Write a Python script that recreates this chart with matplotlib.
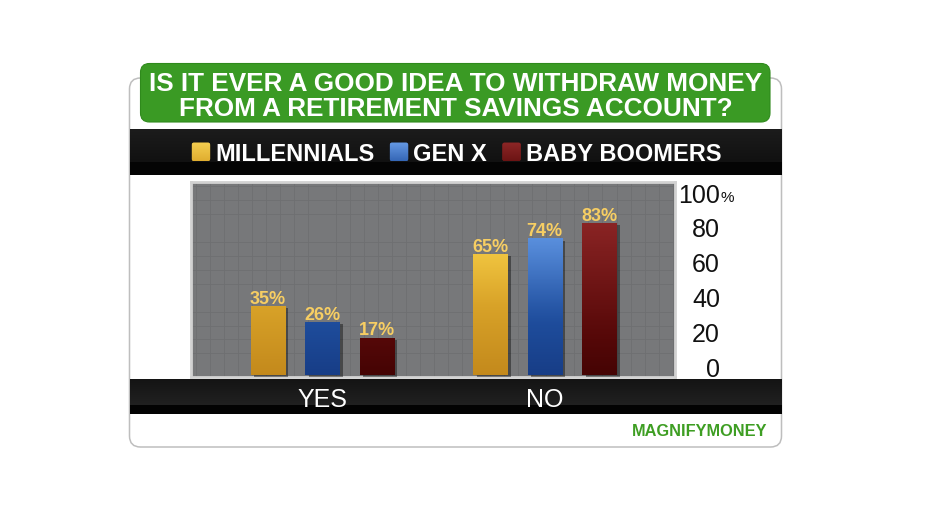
import numpy as np
import matplotlib
matplotlib.use("Agg")
import matplotlib.pyplot as plt
import matplotlib.patheffects as pe
from matplotlib.colors import LinearSegmentedColormap
from matplotlib.patches import FancyBboxPatch, Rectangle
from matplotlib.ticker import MultipleLocator

# --- data -------------------------------------------------------------
CATEGORIES = ["YES", "NO"]
SERIES = ["MILLENNIALS", "GEN X", "BABY BOOMERS"]
MILLENNIALS = [35, 65]
GEN_X = [26, 74]
BABY_BOOMERS = [17, 83]
Y_TICKS = [0, 20, 40, 60, 80, 100]
TITLE_LINES = ["IS IT EVER A GOOD IDEA TO WITHDRAW MONEY",
               "FROM A RETIREMENT SAVINGS ACCOUNT?"]
SOURCE = "MAGNIFYMONEY"

# --- style ------------------------------------------------------------
W, H = 931, 523
FONT = "Liberation Sans"
GREEN = "#3A9A24"
LABEL_GOLD = "#F7CE63"
PLOT_GRAY = "#77787A"
# vertical gradients (position over the plot height, colour)
GRADIENTS = [
    [(0.0, "#C3891C"), (0.36, "#D8A228"), (0.63, "#F0C43F"), (1.0, "#F8D65C")],
    [(0.0, "#173D86"), (0.30, "#1F4E9E"), (0.71, "#5A90DE"), (1.0, "#72A4EC")],
    [(0.0, "#440404"), (0.20, "#560808"), (0.79, "#8A2424"), (1.0, "#962E2E")],
]
CMAPS = [LinearSegmentedColormap.from_list(f"g{i}", g) for i, g in enumerate(GRADIENTS)]

YLIM = (-5.57, 106.4)
BAR_BASE = -4.4
GROUP_OFFSET = 0.245
BAR_WIDTH = 0.153

plt.rcParams["font.family"] = [FONT, "DejaVu Sans"]

fig = plt.figure(figsize=(W / 100, H / 100), dpi=100)
fig.patch.set_facecolor("white")

# full-figure layer in pixel coordinates for the card decoration
bg = fig.add_axes([0, 0, 1, 1], zorder=0)
bg.set_xlim(0, W)
bg.set_ylim(H, 0)
bg.axis("off")


def vgradient(axis, extent, colors, clip=None, origin="upper", zorder=1):
    cmap = LinearSegmentedColormap.from_list("tmp", colors)
    grad = np.linspace(0, 1, 128).reshape(-1, 1)
    im = axis.imshow(grad, extent=extent, origin=origin, aspect="auto",
                     cmap=cmap, zorder=zorder, interpolation="bilinear")
    if clip is not None:
        im.set_clip_path(clip)
    return im


# white card
card = FancyBboxPatch((129.5, 78), 652, 369, boxstyle="round,pad=0,rounding_size=11",
                      facecolor="white", edgecolor="#BEBEBE", linewidth=1.1, zorder=1)
bg.add_patch(card)

# green title banner
banner = FancyBboxPatch((140.5, 63.5), 629.5, 58.5, boxstyle="round,pad=0,rounding_size=9",
                        facecolor=GREEN, edgecolor="#2F8A1C", linewidth=0.8, zorder=3)
bg.add_patch(banner)
for line, base in zip(TITLE_LINES, [90.7, 115.7]):
    bg.text(455.5, base, line, ha="center", va="baseline", color="white",
            fontsize=18.8, fontweight="bold", zorder=4)

# legend band
vgradient(bg, (129.5, 781.5, 162, 129), ["#1C1C1C", "#111111"], zorder=2)
bg.add_patch(Rectangle((129.5, 162), 652, 13, facecolor="#040404", zorder=2))

# category band
vgradient(bg, (129.5, 781.5, 405, 379), ["#141414", "#212121"], zorder=2)
bg.add_patch(Rectangle((129.5, 405), 652, 9, facecolor="#030303", zorder=2))

# legend entries
renderer = fig.canvas.get_renderer()
x = 191.8
for name, cmap in zip(SERIES, CMAPS):
    sw = FancyBboxPatch((x, 142.7), 18.3, 18.3, boxstyle="round,pad=0,rounding_size=2",
                        facecolor=cmap(0.6), edgecolor="none", zorder=3)
    bg.add_patch(sw)
    vgradient(bg, (x, x + 18.3, 161, 142.7), [cmap(0.85), cmap(0.45)], clip=sw, zorder=4)
    t = bg.text(x + 23.3, 161, name, ha="left", va="baseline", color="white",
                fontsize=17, fontweight="bold", zorder=4)
    x = x + 23.3 + t.get_window_extent(renderer).width + 15.5

# source
bg.text(767, 435.7, SOURCE, ha="right", va="baseline", color="#3E9E23",
        fontsize=11.8, fontweight="bold", zorder=4)

# --- chart ------------------------------------------------------------
ax = fig.add_axes([191 / W, 1 - 377 / H, 484 / W, 195 / H], zorder=2)
ax.set_facecolor(PLOT_GRAY)

xc = np.arange(len(CATEGORIES))
for i, (vals, cmap) in enumerate(zip([MILLENNIALS, GEN_X, BABY_BOOMERS], CMAPS)):
    pos = xc + (i - 1) * GROUP_OFFSET
    heights = [v - BAR_BASE for v in vals]
    bars = ax.bar(pos, heights, BAR_WIDTH, bottom=BAR_BASE, color=cmap(0.5),
                  linewidth=0, zorder=3,
                  path_effects=[pe.SimplePatchShadow(offset=(2.5, -1.5), shadow_rgbFace="black",
                                                     alpha=0.4),
                                pe.Normal()])
    for rect, p, v in zip(bars, pos, vals):
        vgradient(ax, (p - BAR_WIDTH / 2, p + BAR_WIDTH / 2, YLIM[0], YLIM[1]),
                  [cmap(k) for k in np.linspace(0, 1, 12)], clip=rect,
                  origin="lower", zorder=4)
        ax.annotate(f"{v}%", (p, v), xytext=(0, 1.6), textcoords="offset points",
                    ha="center", va="baseline", fontsize=13, fontweight="bold",
                    color=LABEL_GOLD, zorder=5)

ax.set_xlim(-0.590, 1.586)
ax.set_ylim(*YLIM)

# fine background grid
ax.xaxis.set_minor_locator(MultipleLocator(0.063))
ax.yaxis.set_minor_locator(MultipleLocator(8))
ax.grid(which="minor", color="#6E6F71", linewidth=0.6)
ax.set_axisbelow(True)

ax.set_xticks(xc, CATEGORIES)
ax.tick_params(axis="x", which="both", length=0, pad=21.4, labelsize=18, labelcolor="white")
plt.setp(ax.get_xticklabels(), va="baseline")

ax.yaxis.tick_right()
ax.set_yticks(Y_TICKS, [str(t) for t in Y_TICKS])
ax.tick_params(axis="y", which="both", length=0, pad=32.4, labelsize=18, labelcolor="#111111")
plt.setp(ax.get_yticklabels(), ha="right")
ax.annotate("%", (1, Y_TICKS[-1]), xycoords=ax.get_yaxis_transform(),
            xytext=(33, -6.1), textcoords="offset points", ha="left", va="baseline",
            fontsize=11, color="#111111", annotation_clip=False)

for sp in ax.spines.values():
    sp.set_color("#D2D2D2")
    sp.set_linewidth(2)

fig.savefig("out.png", dpi=100)
